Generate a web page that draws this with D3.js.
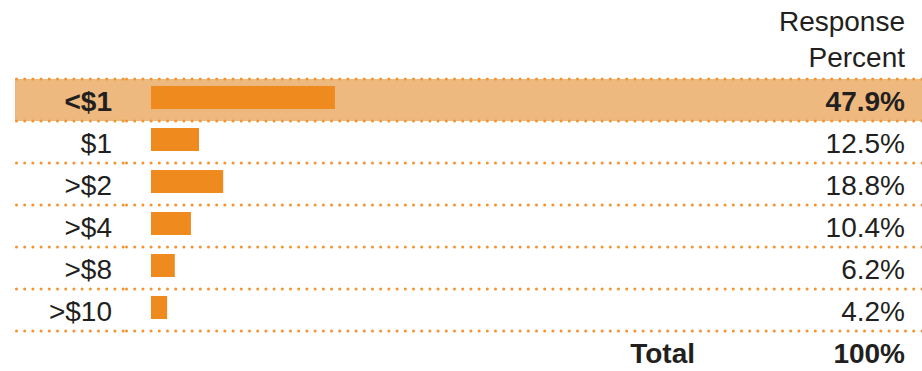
<!DOCTYPE html>
<html>
<head>
<meta charset="utf-8">
<script src="https://cdn.jsdelivr.net/npm/d3@7"></script>
<style>
  html, body { margin: 0; padding: 0; background: #fff; }
  svg { display: block; }
  text { font-family: "Liberation Sans", Arial, Helvetica, sans-serif; fill: #231f20; }
</style>
</head>
<body>
<script>
// Survey answers: share of responses per price bracket
const categories = ["<$1", "$1", ">$2", ">$4", ">$8", ">$10"];
const percents = [47.9, 12.5, 18.8, 10.4, 6.2, 4.2];
const percentLabels = ["47.9%", "12.5%", "18.8%", "10.4%", "6.2%", "4.2%"];
const headerLines = ["Response", "Percent"];
const totalLabel = "Total";
const totalValue = "100%";
const highlighted = "<$1";

const W = 922, H = 371;
const svg = d3.select("body").append("svg").attr("width", W).attr("height", H);

const x = d3.scaleLinear().domain([0, 100]).range([151, 535]);
const y = d3.scaleBand().domain(categories).range([79, 331]).padding(0);
const rowH = y.bandwidth();

const ORANGE = "#ef8a1e";
const DOT = "#f2942f";
const BAND = "#edb97f";
const labelRight = 112, valueRight = 905, fontSize = 28;

// highlighted row background
svg.append("rect")
  .attr("x", 15).attr("y", y(highlighted))
  .attr("width", W - 15).attr("height", rowH)
  .attr("fill", BAND);

// dotted separators (label column + data column)
const seps = [y(categories[0])].concat(categories.map(c => y(c) + rowH));
const sepG = svg.append("g");
[[15, 125], [125, W + 4]].forEach(([a, b]) => {
  sepG.selectAll(null).data(seps).join("line")
    .attr("x1", a + 1.5).attr("x2", b)
    .attr("y1", d => d).attr("y2", d => d)
    .attr("stroke", DOT).attr("stroke-width", 3)
    .attr("stroke-linecap", "round")
    .attr("stroke-dasharray", "0 8.2");
});

// bars
svg.selectAll("rect.bar").data(categories).join("rect")
  .attr("class", "bar")
  .attr("x", x(0))
  .attr("y", c => y(c) + 7)
  .attr("width", (c, i) => x(percents[i]) - x(0))
  .attr("height", 23)
  .attr("fill", ORANGE);

// category labels
svg.selectAll("text.cat").data(categories).join("text")
  .attr("class", "cat")
  .attr("x", labelRight)
  .attr("y", c => y(c) + 31.5)
  .attr("text-anchor", "end")
  .attr("font-size", fontSize)
  .attr("font-weight", c => c === highlighted ? "bold" : "normal")
  .text(c => c);

// percent labels
svg.selectAll("text.val").data(categories).join("text")
  .attr("class", "val")
  .attr("x", valueRight)
  .attr("y", c => y(c) + 31.5)
  .attr("text-anchor", "end")
  .attr("font-size", fontSize)
  .attr("font-weight", c => c === highlighted ? "bold" : "normal")
  .text((c, i) => percentLabels[i]);

// column header
svg.selectAll("text.head").data(headerLines).join("text")
  .attr("class", "head")
  .attr("x", valueRight)
  .attr("y", (d, i) => 31 + i * 36)
  .attr("text-anchor", "end")
  .attr("font-size", fontSize)
  .text(d => d);

// total row
const totalY = y(categories[categories.length - 1]) + rowH + 32;
svg.append("text")
  .attr("x", 695).attr("y", totalY)
  .attr("text-anchor", "end")
  .attr("font-size", fontSize).attr("font-weight", "bold")
  .text(totalLabel);
svg.append("text")
  .attr("x", valueRight).attr("y", totalY)
  .attr("text-anchor", "end")
  .attr("font-size", fontSize).attr("font-weight", "bold")
  .text(totalValue);
</script>
</body>
</html>
